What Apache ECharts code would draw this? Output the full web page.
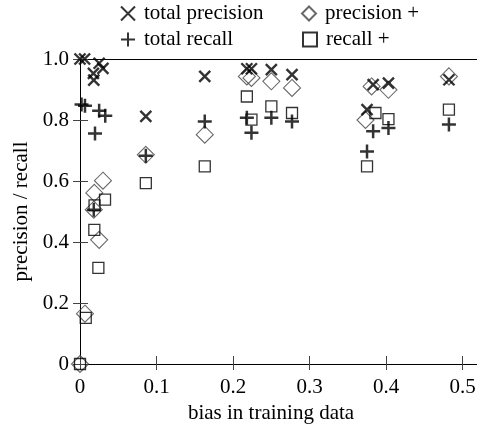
<!DOCTYPE html>
<html><head><meta charset="utf-8">
<script src="https://cdn.jsdelivr.net/npm/echarts@6/dist/echarts.min.js"></script>
<style>html,body{margin:0;padding:0;background:#fff}#c{width:477px;height:426px}</style>
</head><body><div id="c"></div>
<script>
var xTicks = ['0','0.1','0.2','0.3','0.4','0.5'];
var yTicks = ['0','0.2','0.4','0.6','0.8','1.0'];
var precX = [0.0, 0.006, 0.025, 0.030, 0.0175, 0.018, 0.086, 0.163, 0.218, 0.224, 0.250, 0.277, 0.375, 0.383, 0.403, 0.482];
var precY = [1.0, 1.0, 0.986, 0.969, 0.953, 0.931, 0.812, 0.943, 0.968, 0.968, 0.965, 0.949, 0.834, 0.916, 0.921, 0.932];
var recX = [0.002, 0.0065, 0.025, 0.033, 0.0196, 0.018, 0.086, 0.163, 0.218, 0.224, 0.250, 0.277, 0.375, 0.383, 0.403, 0.482];
var recY = [0.851, 0.847, 0.83, 0.814, 0.756, 0.506, 0.683, 0.795, 0.807, 0.758, 0.807, 0.795, 0.697, 0.763, 0.774, 0.785];
var precPlusX = [0.0, 0.0065, 0.030, 0.0187, 0.018, 0.025, 0.086, 0.163, 0.218, 0.224, 0.250, 0.277, 0.373, 0.381, 0.403, 0.482];
var precPlusY = [0.0, 0.165, 0.601, 0.561, 0.506, 0.407, 0.686, 0.752, 0.943, 0.938, 0.927, 0.905, 0.80, 0.91, 0.899, 0.943];
var recPlusX = [0.0, 0.0075, 0.0187, 0.024, 0.0327, 0.019, 0.086, 0.163, 0.218, 0.224, 0.250, 0.277, 0.375, 0.386, 0.403, 0.482];
var recPlusY = [0.0, 0.151, 0.44, 0.315, 0.539, 0.52, 0.593, 0.648, 0.877, 0.801, 0.845, 0.823, 0.648, 0.823, 0.803, 0.834];

function pairs(xs, ys){ return xs.map(function(x,i){ return [x, ys[i]]; }); }
var FONT = '"Liberation Serif", "DejaVu Serif", serif';
var FS = 21;
var CROSS = 'path://M0,0L10,10M10,0L0,10';
var PLUS = 'path://M5,0L5,10M0,5L10,5';

var chart = echarts.init(document.getElementById('c'), null, {renderer:'canvas'});
function leg(name, left, top){
  return {data:[name], left:left, top:top, padding:0, itemWidth:14, itemHeight:14, itemGap:0,
    textStyle:{fontFamily:FONT, fontSize:FS, color:'#000', padding:[0,0,0,4]}, selectedMode:false};
}
var yFmt = function(v){ return v === 0 ? '0' : v.toFixed(1); };
var xFmt = function(v){ return v === 0 ? '0' : String(Math.round(v*10)/10); };
chart.setOption({
  animation:false,
  legend:[leg('total precision',120,3), leg('precision +',301,3), leg('total recall',120,29), leg('recall +',302,29)],
  grid:{left:80, right:-1, top:59, bottom:62, containLabel:false, outerBoundsMode:'none'},
  xAxis:[
    {type:'value', min:0, max:0.52, interval:0.1, position:'bottom',
     axisLine:{lineStyle:{color:'#000', width:1}},
     axisTick:{inside:false, length:6, lineStyle:{color:'#444'}},
     axisLabel:{formatter:xFmt, fontFamily:FONT, fontSize:FS, color:'#000', margin:13, showMaxLabel:false},
     splitLine:{show:false},
     name:'bias in training data', nameLocation:'middle', nameGap:39,
     nameTextStyle:{fontFamily:FONT, fontSize:FS, color:'#000', padding:[0,16,0,0]}},
    {type:'value', min:0, max:0.52, interval:0.1, position:'bottom',
     axisLine:{show:false}, axisTick:{inside:true, length:8, lineStyle:{color:'#444'}},
     axisLabel:{show:false}, splitLine:{show:false}},
    {type:'value', min:0, max:0.52, position:'top',
     axisLine:{lineStyle:{color:'#000', width:1}}, axisTick:{show:false},
     axisLabel:{show:false}, splitLine:{show:false}}
  ],
  yAxis:[
    {type:'value', min:0, max:1, interval:0.2,
     axisLine:{show:true, lineStyle:{color:'#000', width:1}},
     axisTick:{show:true, inside:false, length:7, lineStyle:{color:'#444'}},
     axisLabel:{formatter:yFmt, fontFamily:FONT, fontSize:FS, color:'#000', margin:11},
     splitLine:{show:false},
     name:'precision / recall', nameLocation:'middle', nameGap:45,
     nameTextStyle:{fontFamily:FONT, fontSize:FS, color:'#000'}},
    {type:'value', min:0, max:1, interval:0.2, position:'left',
     axisLine:{show:false}, axisTick:{show:true, inside:true, length:8, lineStyle:{color:'#444'}},
     axisLabel:{show:false}, splitLine:{show:false}}
  ],
  series:[
    {name:'precision +', type:'scatter', data:pairs(precPlusX, precPlusY), symbol:'diamond', symbolSize:[17,17],
     itemStyle:{color:'rgba(255,255,255,0)', borderColor:'#444', borderWidth:1.1}, emphasis:{disabled:true}},
    {name:'recall +', type:'scatter', data:pairs(recPlusX, recPlusY), symbol:'rect', symbolSize:11,
     itemStyle:{color:'rgba(255,255,255,0)', borderColor:'#000', borderWidth:1.3}, emphasis:{disabled:true}},
    {name:'total precision', type:'scatter', data:pairs(precX, precY), symbol:CROSS, symbolSize:11,
     itemStyle:{color:'rgba(0,0,0,0)', borderColor:'#000', borderWidth:2.4}, emphasis:{disabled:true}},
    {name:'total recall', type:'scatter', data:pairs(recX, recY), symbol:PLUS, symbolSize:14,
     itemStyle:{color:'rgba(0,0,0,0)', borderColor:'#000', borderWidth:2.5}, emphasis:{disabled:true}}
  ]
});
</script></body></html>
